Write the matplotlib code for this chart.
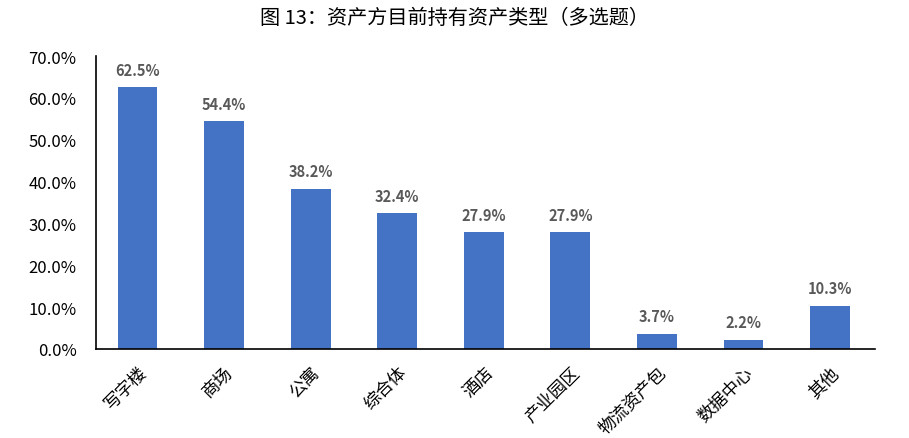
import matplotlib
matplotlib.use("Agg")
import matplotlib.pyplot as plt
from matplotlib.ticker import FuncFormatter

plt.rcParams['font.family'] = ['Noto Sans CJK SC', 'DejaVu Sans']

categories = ['写字楼', '商场', '公寓', '综合体', '酒店', '产业园区', '物流资产包', '数据中心', '其他']
values = [62.5, 54.4, 38.2, 32.4, 27.9, 27.9, 3.7, 2.2, 10.3]
title = '图 13：资产方目前持有资产类型（多选题）'

fig = plt.figure(figsize=(9.09, 4.39), dpi=100)
ax = fig.add_axes([96/909, 1-350/439, (875-96)/909, (350-57)/439])

x = range(len(categories))
ax.bar(x, values, width=0.46, color='#4472C4', zorder=2)
for xi, v in zip(x, values):
    ax.text(xi, v + 2.3, f'{v:.1f}%', ha='center', va='bottom', fontsize=10.5,
            fontweight='bold', color='#595959')

ax.set_xlim(-0.48, 8.52)
ax.set_ylim(0, 70)
ax.set_yticks(range(0, 71, 10))
ax.yaxis.set_major_formatter(FuncFormatter(lambda v, p: f'{v:.1f}%'))
ax.set_xticks(list(x))
ax.set_xticklabels(categories, rotation=45, ha='right', rotation_mode='anchor', fontsize=12.5)
ax.tick_params(axis='y', labelsize=12, length=0, pad=14)
ax.tick_params(axis='x', length=0, pad=10)
for s in ['top', 'right']:
    ax.spines[s].set_visible(False)
ax.spines['left'].set_linewidth(1.2)
ax.spines['bottom'].set_linewidth(1.2)

fig.text(0.5, 1-19/439, title, ha='center', va='center', fontsize=14.5)

fig.savefig('out.png', dpi=100)
